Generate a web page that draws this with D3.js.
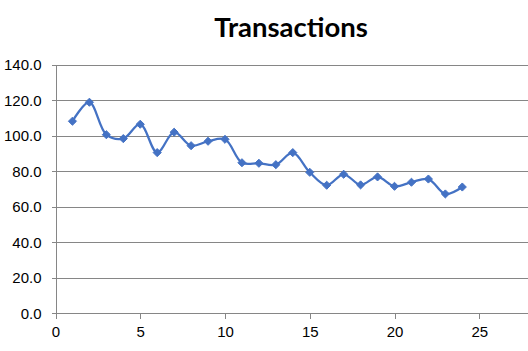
<!DOCTYPE html>
<html><head><meta charset="utf-8">
<script src="https://cdn.jsdelivr.net/npm/d3@7"></script>
<style>body{margin:0;background:#fff}svg{display:block}</style>
</head><body>
<svg id="c" width="528" height="351"></svg>
<script>
const xValues = [1,2,3,4,5,6,7,8,9,10,11,12,13,14,15,16,17,18,19,20,21,22,23,24];
const transactions = [108.3,119.0,100.7,98.5,106.6,90.6,102.1,94.5,97.0,98.1,84.9,84.6,83.8,90.6,79.5,72.2,78.4,72.4,76.9,71.6,73.9,75.7,67.3,71.2];
const yTicks = [0,20,40,60,80,100,120,140];
const xTicks = [0,5,10,15,20,25];
const title = "Transactions";

const svg = d3.select("#c");
const x = d3.scaleLinear().domain([0,30]).range([55.5, 55.5 + 16.95*30]);
const y = d3.scaleLinear().domain([0,140]).range([313.3, 65]);
const gridColor = "#868686";
const blue = "#4472C4";

svg.append("text").attr("x", 291).attr("y", 37).attr("text-anchor","middle")
  .attr("font-family","Lato, 'Open Sans', sans-serif").attr("font-weight","bold")
  .attr("font-size", 27.5).attr("fill","#000").text(title);

// y gridlines + axis
const yAxis = d3.axisLeft(y).tickValues(yTicks).tickFormat(d3.format(".1f"))
  .tickSize(-(528-50)).tickPadding(10);
const gy = svg.append("g").attr("transform", `translate(${Math.round(x(0))+0.5},0)`).call(yAxis);
gy.select(".domain").remove();
gy.selectAll(".tick line").attr("x1", -5).attr("x2", 528).attr("stroke", gridColor).attr("shape-rendering","crispEdges");
gy.selectAll(".tick text").attr("x", -15).attr("font-family","'Liberation Sans', Arial, sans-serif")
  .attr("font-size", 15).attr("fill","#000");

// left axis line
svg.append("line").attr("x1", Math.round(x(0))+0.5).attr("x2", Math.round(x(0))+0.5)
  .attr("y1", y(140)).attr("y2", y(0)).attr("stroke", gridColor).attr("shape-rendering","crispEdges");

// x axis
const xAxis = d3.axisBottom(x).tickValues(xTicks).tickSize(5).tickPadding(8);
const gx = svg.append("g").attr("transform", `translate(0,${Math.round(y(0))+0.5})`).call(xAxis);
gx.select(".domain").remove();
gx.selectAll(".tick line").attr("stroke", gridColor).attr("shape-rendering","crispEdges");
gx.selectAll(".tick text").attr("font-family","'Liberation Sans', Arial, sans-serif")
  .attr("font-size", 15).attr("fill","#000");

const pts = xValues.map((d,i)=>[d, transactions[i]]);
const line = d3.line().x(d=>x(d[0])).y(d=>y(d[1])).curve(d3.curveCatmullRom.alpha(0.5));
svg.append("path").attr("d", line(pts)).attr("fill","none").attr("stroke", blue).attr("stroke-width", 2.25);

const sym = d3.symbol().type(d3.symbolDiamond2).size(42);
svg.selectAll(".m").data(pts).enter().append("path")
  .attr("transform", d=>`translate(${x(d[0])},${y(d[1])})`)
  .attr("d", sym).attr("fill", blue).attr("stroke", blue).attr("stroke-width", 1);
</script>
</body></html>
